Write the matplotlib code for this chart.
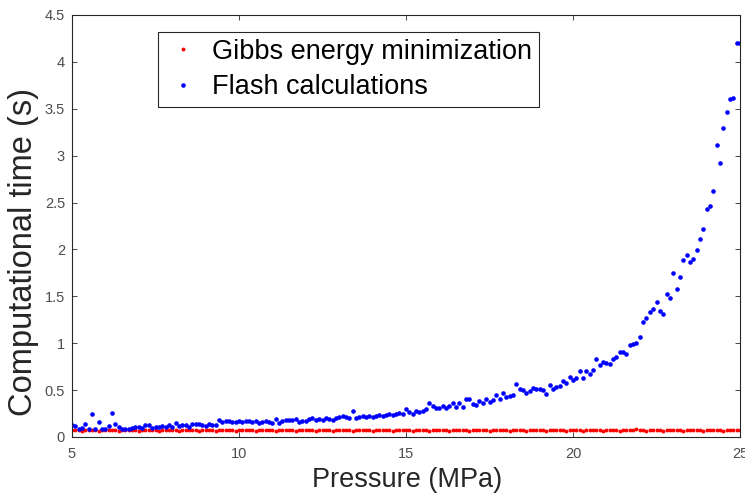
import matplotlib
matplotlib.use("Agg")
import matplotlib.pyplot as plt
from matplotlib.ticker import FormatStrFormatter, MultipleLocator
import numpy as np

# pressure grid (MPa), 0.1 MPa steps from 5 to 25
pressure = np.round(np.arange(5.0, 25.0001, 0.1), 1)

# computational time (s), one row per MPa
gibbs_time = [
    0.070, 0.071, 0.070, 0.069, 0.070, 0.071, 0.070, 0.070, 0.069, 0.070,   # 5
    0.070, 0.071, 0.070, 0.070, 0.069, 0.070, 0.071, 0.070, 0.070, 0.070,   # 6
    0.069, 0.070, 0.070, 0.071, 0.070, 0.070, 0.069, 0.070, 0.071, 0.070,   # 7
    0.070, 0.070, 0.069, 0.070, 0.071, 0.070, 0.070, 0.070, 0.069, 0.070,   # 8
    0.071, 0.070, 0.070, 0.069, 0.070, 0.070, 0.071, 0.070, 0.070, 0.069,   # 9
    0.070, 0.070, 0.071, 0.070, 0.070, 0.069, 0.070, 0.071, 0.070, 0.070,   # 10
    0.070, 0.069, 0.070, 0.070, 0.071, 0.070, 0.070, 0.069, 0.070, 0.071,   # 11
    0.070, 0.070, 0.070, 0.069, 0.070, 0.071, 0.070, 0.070, 0.069, 0.070,   # 12
    0.070, 0.071, 0.070, 0.070, 0.069, 0.070, 0.070, 0.071, 0.070, 0.070,   # 13
    0.069, 0.070, 0.071, 0.070, 0.070, 0.070, 0.069, 0.070, 0.071, 0.070,   # 14
    0.070, 0.070, 0.069, 0.070, 0.071, 0.070, 0.070, 0.069, 0.070, 0.070,   # 15
    0.071, 0.070, 0.070, 0.069, 0.070, 0.071, 0.070, 0.070, 0.070, 0.069,   # 16
    0.070, 0.070, 0.071, 0.070, 0.070, 0.069, 0.070, 0.071, 0.070, 0.070,   # 17
    0.070, 0.069, 0.070, 0.071, 0.070, 0.070, 0.069, 0.070, 0.070, 0.071,   # 18
    0.070, 0.070, 0.069, 0.070, 0.071, 0.070, 0.070, 0.070, 0.069, 0.070,   # 19
    0.071, 0.070, 0.070, 0.069, 0.070, 0.070, 0.071, 0.070, 0.070, 0.069,   # 20
    0.070, 0.071, 0.070, 0.070, 0.069, 0.070, 0.070, 0.071, 0.070, 0.080,   # 21
    0.070, 0.070, 0.069, 0.070, 0.071, 0.070, 0.070, 0.069, 0.070, 0.070,   # 22
    0.071, 0.070, 0.070, 0.069, 0.070, 0.071, 0.070, 0.070, 0.070, 0.069,   # 23
    0.070, 0.070, 0.071, 0.070, 0.070, 0.069, 0.070, 0.071, 0.070, 0.070,   # 24
    0.070,                                                                  # 25
]

flash_time = [
    0.13, 0.12, 0.08, 0.10, 0.14, 0.08, 0.24, 0.09, 0.16, 0.09,   # 5
    0.09, 0.12, 0.26, 0.14, 0.11, 0.08, 0.09, 0.09, 0.10, 0.11,   # 6
    0.11, 0.10, 0.13, 0.13, 0.10, 0.11, 0.11, 0.12, 0.11, 0.13,   # 7
    0.11, 0.15, 0.12, 0.13, 0.13, 0.11, 0.14, 0.14, 0.14, 0.13,   # 8
    0.12, 0.14, 0.13, 0.13, 0.18, 0.16, 0.17, 0.17, 0.16, 0.16,   # 9
    0.17, 0.16, 0.17, 0.17, 0.16, 0.17, 0.15, 0.16, 0.17, 0.16,   # 10
    0.15, 0.19, 0.15, 0.17, 0.18, 0.18, 0.18, 0.19, 0.16, 0.17,   # 11
    0.17, 0.19, 0.20, 0.18, 0.19, 0.18, 0.20, 0.19, 0.18, 0.20,   # 12
    0.21, 0.22, 0.21, 0.20, 0.28, 0.20, 0.21, 0.22, 0.21, 0.22,   # 13
    0.21, 0.22, 0.23, 0.22, 0.23, 0.24, 0.23, 0.25, 0.26, 0.25,   # 14
    0.30, 0.27, 0.24, 0.28, 0.27, 0.28, 0.30, 0.36, 0.33, 0.31,   # 15
    0.31, 0.33, 0.31, 0.33, 0.36, 0.32, 0.36, 0.32, 0.40, 0.40,   # 16
    0.35, 0.34, 0.38, 0.36, 0.40, 0.37, 0.39, 0.45, 0.40, 0.47,   # 17
    0.43, 0.44, 0.45, 0.56, 0.51, 0.50, 0.47, 0.49, 0.52, 0.51,   # 18
    0.51, 0.50, 0.46, 0.55, 0.51, 0.53, 0.54, 0.60, 0.58, 0.64,   # 19
    0.61, 0.63, 0.70, 0.63, 0.70, 0.67, 0.71, 0.83, 0.77, 0.80,   # 20
    0.79, 0.78, 0.83, 0.85, 0.91, 0.91, 0.89, 0.98, 0.99, 1.00,   # 21
    1.07, 1.23, 1.27, 1.33, 1.37, 1.44, 1.34, 1.31, 1.52, 1.48,   # 22
    1.75, 1.58, 1.71, 1.89, 1.94, 1.87, 1.90, 1.99, 2.11, 2.22,   # 23
    2.43, 2.46, 2.62, 3.11, 2.92, 3.29, 3.47, 3.60, 3.62, 4.20,   # 24
    4.20,                                                         # 25
]

series_labels = ["Gibbs energy minimization", "Flash calculations"]

plt.rcParams.update({
    "font.family": ["Liberation Sans", "DejaVu Sans"],
    "axes.linewidth": 0.8,
    "axes.edgecolor": "#262626",
    "xtick.direction": "in",
    "ytick.direction": "in",
    "xtick.top": True,
    "ytick.right": True,
    "xtick.major.size": 3.5,
    "ytick.major.size": 3.5,
    "xtick.major.width": 0.6,
    "ytick.major.width": 0.6,
    "xtick.color": "#262626",
    "ytick.color": "#262626",
    "xtick.labelcolor": "#4d4d4d",
    "ytick.labelcolor": "#4d4d4d",
    "xtick.labelsize": 10.5,
    "ytick.labelsize": 10.5,
})

fig = plt.figure(figsize=(7.45, 4.99), dpi=100)
ax = fig.add_axes([72 / 745, 62 / 499, 668 / 745, 422 / 499])

ax.plot(pressure, gibbs_time, "o", color="#ff0000", ms=2.8, mew=0,
        label=series_labels[0])
ax.plot(pressure, flash_time, "o", color="#0000ff", ms=3.3, mew=0,
        label=series_labels[1])

ax.set_xlim(5, 25)
ax.set_ylim(0, 4.5)
ax.xaxis.set_major_locator(MultipleLocator(5))
ax.yaxis.set_major_locator(MultipleLocator(0.5))
ax.xaxis.set_major_formatter(FormatStrFormatter("%g"))
ax.yaxis.set_major_formatter(FormatStrFormatter("%g"))
ax.tick_params(axis="x", pad=7)
ax.tick_params(axis="y", pad=5)

ax.set_xlabel("Pressure (MPa)", fontsize=19.5, color="#262626")
ax.xaxis.set_label_coords(0.5015, -0.072)
ax.set_ylabel("Computational time (s)", fontsize=23.5, color="#262626",
              va="center")
ax.yaxis.set_label_coords(-0.073, 0.438)

leg = ax.legend(loc="upper left", bbox_to_anchor=(0.129, 0.96),
                borderaxespad=0, fontsize=19.5, frameon=True, fancybox=False,
                framealpha=1, edgecolor="#262626", borderpad=0.25,
                labelspacing=0.36, handlelength=1.3, handletextpad=0.45,
                markerscale=1.0)
leg.get_frame().set_linewidth(0.8)

fig.savefig("out.png", dpi=100)
